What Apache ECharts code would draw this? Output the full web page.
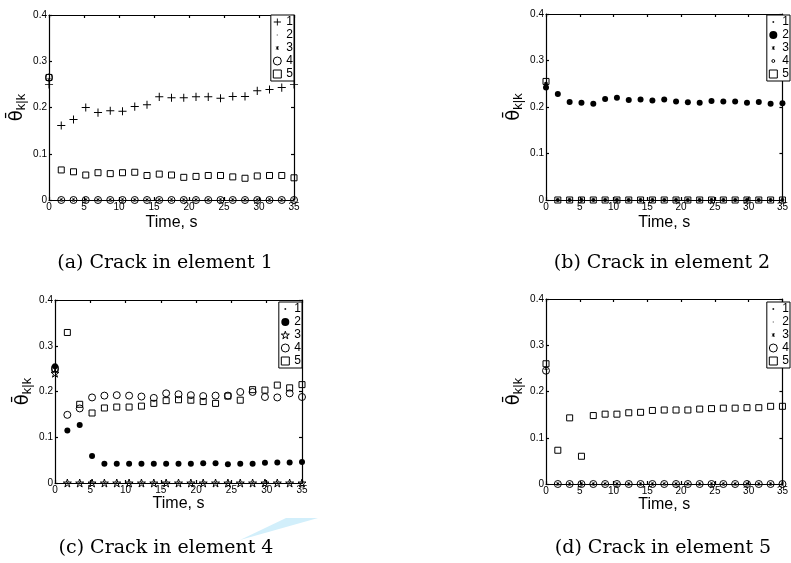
<!DOCTYPE html>
<html>
<head>
<meta charset="utf-8">
<script src="https://cdn.jsdelivr.net/npm/echarts@6/dist/echarts.min.js"></script>
<style>
  html, body { margin: 0; background: #fff; }
  #chart { width: 791px; height: 563px; }
</style>
</head>
<body>
<div id="chart"></div>
<script>
// time steps (s)
const time = [0, 1.75, 3.5, 5.25, 7, 8.75, 10.5, 12.25, 14, 15.75, 17.5, 19.25, 21, 22.75, 24.5, 26.25, 28, 29.75, 31.5, 33.25, 35];
const xTicks = [0, 35, 5];
const yTicks = [0, 0.4, 0.1];

// (a) crack in element 1
const a1 = [0.25, 0.161, 0.174, 0.200, 0.189, 0.193, 0.192, 0.202, 0.206, 0.223, 0.221, 0.221, 0.223, 0.223, 0.220, 0.224, 0.224, 0.236, 0.239, 0.243, 0.25];
const a2 = [0.26, 0, 0, 0, 0, 0, 0, 0, 0, 0, 0, 0, 0, 0, 0, 0, 0, 0, 0, 0, 0];
const a3 = [0.26, 0, 0, 0, 0, 0, 0, 0, 0, 0, 0, 0, 0, 0, 0, 0, 0, 0, 0, 0, 0];
const a4 = [0.265, 0, 0, 0, 0, 0, 0, 0, 0, 0, 0, 0, 0, 0, 0, 0, 0, 0, 0, 0, 0];
const a5 = [0.265, 0.065, 0.061, 0.054, 0.059, 0.057, 0.059, 0.060, 0.053, 0.056, 0.054, 0.049, 0.051, 0.053, 0.053, 0.050, 0.047, 0.052, 0.053, 0.053, 0.048];

// (b) crack in element 2
const b1 = [0.25, 0, 0, 0, 0, 0, 0, 0, 0, 0, 0, 0, 0, 0, 0, 0, 0, 0, 0, 0, 0];
const b2 = [0.242, 0.228, 0.211, 0.209, 0.207, 0.217, 0.220, 0.215, 0.216, 0.214, 0.216, 0.212, 0.210, 0.209, 0.213, 0.212, 0.212, 0.209, 0.211, 0.207, 0.208];
const b3 = [0.25, 0, 0, 0, 0, 0, 0, 0, 0, 0, 0, 0, 0, 0, 0, 0, 0, 0, 0, 0, 0];
const b4 = [0.25, 0, 0, 0, 0, 0, 0, 0, 0, 0, 0, 0, 0, 0, 0, 0, 0, 0, 0, 0, 0];
const b5 = [0.255, 0, 0, 0, 0, 0, 0, 0, 0, 0, 0, 0, 0, 0, 0, 0, 0, 0, 0, 0, 0];

// (c) crack in element 4
const c1 = [0.25, 0, 0, 0, 0, 0, 0, 0, 0, 0, 0, 0, 0, 0, 0, 0, 0, 0, 0, 0, 0];
const c2 = [0.255, 0.115, 0.127, 0.059, 0.042, 0.042, 0.042, 0.042, 0.042, 0.042, 0.042, 0.042, 0.043, 0.043, 0.041, 0.042, 0.042, 0.044, 0.045, 0.045, 0.046];
const c3 = [0.24, 0, 0, 0, 0, 0, 0, 0, 0, 0, 0, 0, 0, 0, 0, 0, 0, 0, 0, 0, 0];
const c4 = [0.25, 0.149, 0.163, 0.187, 0.191, 0.192, 0.191, 0.189, 0.186, 0.196, 0.194, 0.192, 0.190, 0.191, 0.191, 0.199, 0.199, 0.188, 0.187, 0.196, 0.188];
const c5 = [0.25, 0.329, 0.172, 0.153, 0.164, 0.166, 0.166, 0.168, 0.174, 0.180, 0.182, 0.181, 0.178, 0.174, 0.190, 0.181, 0.204, 0.203, 0.214, 0.208, 0.215];

// (d) crack in element 5
const d1 = [0.25, 0, 0, 0, 0, 0, 0, 0, 0, 0, 0, 0, 0, 0, 0, 0, 0, 0, 0, 0, 0];
const d2 = [0.25, 0, 0, 0, 0, 0, 0, 0, 0, 0, 0, 0, 0, 0, 0, 0, 0, 0, 0, 0, 0];
const d3 = [0.25, 0, 0, 0, 0, 0, 0, 0, 0, 0, 0, 0, 0, 0, 0, 0, 0, 0, 0, 0, 0];
const d4 = [0.245, 0, 0, 0, 0, 0, 0, 0, 0, 0, 0, 0, 0, 0, 0, 0, 0, 0, 0, 0, 0];
const d5 = [0.26, 0.073, 0.143, 0.060, 0.148, 0.151, 0.151, 0.154, 0.155, 0.159, 0.160, 0.160, 0.160, 0.162, 0.163, 0.164, 0.164, 0.165, 0.165, 0.168, 0.168];

const captions = ['(a) Crack in element 1', '(b) Crack in element 2', '(c) Crack in element 4', '(d) Crack in element 5'];

const NARROW = "'Liberation Sans Narrow', 'Liberation Sans', sans-serif";

// marker shapes (10x10 box kept by the two M anchors)
const MK = {
  plus: { symbol: 'path://M0,0M10,10M4.45,0.5H5.55V9.5H4.45ZM0.5,4.45H9.5V5.55H0.5Z', size: 9, fill: '#000', bw: 0 },
  dot: { symbol: 'path://M0,0M10,10M4,4H6V6H4Z', size: 8, fill: '#000', bw: 0 },
  faint: { symbol: 'path://M0,0M10,10M4.2,4.2H5.8V5.8H4.2Z', size: 8, fill: '#999', bw: 0 },
  ast: { symbol: 'path://M0,0M10,10M4.6,2.6H5.4V7.4H4.6ZM2.9,3.5L3.5,2.9L7.1,6.5L6.5,7.1ZM6.5,2.9L7.1,3.5L3.5,7.1L2.9,6.5Z', size: 8, fill: '#000', bw: 0 },
  disc: { symbol: 'circle', size: 6, fill: '#000', bw: 0 },
  ring: { symbol: 'circle', size: 7, fill: 'rgba(0,0,0,0)', bw: 1 },
  smallRing: { symbol: 'path://M0,0M10,10M5,3.2A1.8,1.8,0,1,1,4.99,3.2Z', size: 8, fill: 'rgba(0,0,0,0)', bw: 1 },
  square: { symbol: 'rect', size: 6, fill: 'rgba(0,0,0,0)', bw: 1 },
  star: { symbol: 'path://M5,0L6.12,3.46L9.76,3.46L6.81,5.59L7.94,9.05L5,6.9L2.06,9.05L3.19,5.59L0.24,3.46L3.88,3.46Z', size: 8, fill: 'rgba(0,0,0,0)', bw: 1 }
};

const panels = [
  { key: 'a', grid: { left: 49, top: 15, width: 245, height: 185 }, legend: { right: 497, top: 15 }, nameGapX: 15, nameGapY: 21,
    data: [a1, a2, a3, a4, a5], marks: ['plus', 'faint', 'ast', 'ring', 'square'], cap: [165, 263] },
  { key: 'b', grid: { left: 546, top: 14, width: 246, height: 186 }, legend: { right: 1, top: 15 }, nameGapX: 15, nameGapY: 21,
    data: [b1, b2, b3, b4, b5], marks: ['dot', 'disc', 'ast', 'smallRing', 'square'], cap: [662, 263] },
  { key: 'c', grid: { left: 55, top: 300, width: 247, height: 183 }, legend: { right: 489, top: 302 }, nameGapX: 12, nameGapY: 21,
    data: [c1, c2, c3, c4, c5], marks: ['dot', 'disc', 'star', 'ring', 'square'], cap: [166, 548] },
  { key: 'd', grid: { left: 546, top: 299, width: 246, height: 185 }, legend: { right: 1, top: 302 }, nameGapX: 13, nameGapY: 21,
    data: [d1, d2, d3, d4, d5], marks: ['dot', 'faint', 'ast', 'ring', 'square'], cap: [663, 548] }
];

const grid = [], xAxis = [], yAxis = [], series = [], legend = [];
const graphic = [
  // faint blue watermark piece under panel (c)
  { type: 'polygon', shape: { points: [[240, 540], [286, 518], [318, 518]] }, style: { fill: '#d2effb' }, z: -1 }
];
const lineStyle = { color: '#000', width: 1.2 };

panels.forEach((p, i) => {
  grid.push(p.grid);
  xAxis.push({
    gridIndex: i, type: 'value', min: xTicks[0], max: xTicks[1], interval: xTicks[2],
    axisLine: { onZero: false, lineStyle }, axisTick: { inside: true, length: 3, lineStyle },
    axisLabel: { margin: 2, fontSize: 10, fontFamily: NARROW, color: '#000' },
    splitLine: { show: false },
    name: 'Time, s', nameLocation: 'middle', nameGap: p.nameGapX,
    nameTextStyle: { fontSize: 16, fontFamily: NARROW, color: '#000', verticalAlign: 'top' }
  });
  xAxis.push({
    gridIndex: i, type: 'value', position: 'top', min: xTicks[0], max: xTicks[1], interval: xTicks[2],
    axisLine: { onZero: false, lineStyle }, axisTick: { inside: true, length: 3, lineStyle },
    axisLabel: { show: false }, splitLine: { show: false }
  });
  yAxis.push({
    gridIndex: i, type: 'value', min: yTicks[0], max: yTicks[1], interval: yTicks[2],
    axisLine: { onZero: false, lineStyle }, axisTick: { inside: true, length: 3, lineStyle },
    axisLabel: { margin: 2, fontSize: 10, fontFamily: NARROW, color: '#000' },
    splitLine: { show: false },
    name: '{t|θ\u0304}{s|k|k}', nameLocation: 'middle', nameGap: p.nameGapY,
    nameTextStyle: {
      color: '#000',
      rich: {
        t: { fontSize: 18, fontFamily: 'DejaVu Sans', color: '#000', lineHeight: 22 },
        s: { fontSize: 13, fontFamily: NARROW, color: '#000', lineHeight: 22, verticalAlign: 'bottom', padding: [6, 0, 0, 0] }
      }
    }
  });
  yAxis.push({
    gridIndex: i, type: 'value', position: 'right', min: yTicks[0], max: yTicks[1], interval: yTicks[2],
    axisLine: { onZero: false, lineStyle }, axisTick: { inside: true, length: 3, lineStyle },
    axisLabel: { show: false }, splitLine: { show: false }
  });

  const items = [];
  p.data.forEach((vals, j) => {
    const m = MK[p.marks[j]];
    const name = p.key + (j + 1);
    items.push({ name, itemStyle: { borderWidth: m.bw } });
    series.push({
      type: 'scatter', name, xAxisIndex: 2 * i, yAxisIndex: 2 * i,
      data: time.map((t, k) => [t, vals[k]]),
      symbol: m.symbol, symbolSize: m.size, silent: true,
      itemStyle: { color: m.fill, borderColor: '#000', borderWidth: m.bw, opacity: 1 }
    });
  });

  legend.push(Object.assign({
    orient: 'vertical', data: items,
    itemWidth: 8, itemHeight: 8, itemGap: 1, itemTextGap: 2, padding: [1, 1, 1, 2],
    borderColor: '#000', borderWidth: 1, backgroundColor: '#fff', selectedMode: false,
    textStyle: { fontSize: 12, fontFamily: NARROW, color: '#000' },
    formatter: n => n.slice(1)
  }, p.legend));

  graphic.push({
    type: 'text', x: p.cap[0], y: p.cap[1],
    style: { text: captions[i], fontSize: 19, fontFamily: "'DejaVu Serif', serif", fill: '#000', align: 'center', verticalAlign: 'middle' }
  });
});

const chart = echarts.init(document.getElementById('chart'));
chart.setOption({ animation: false, backgroundColor: '#fff', grid, xAxis, yAxis, series, legend, graphic });
</script>
</body>
</html>
